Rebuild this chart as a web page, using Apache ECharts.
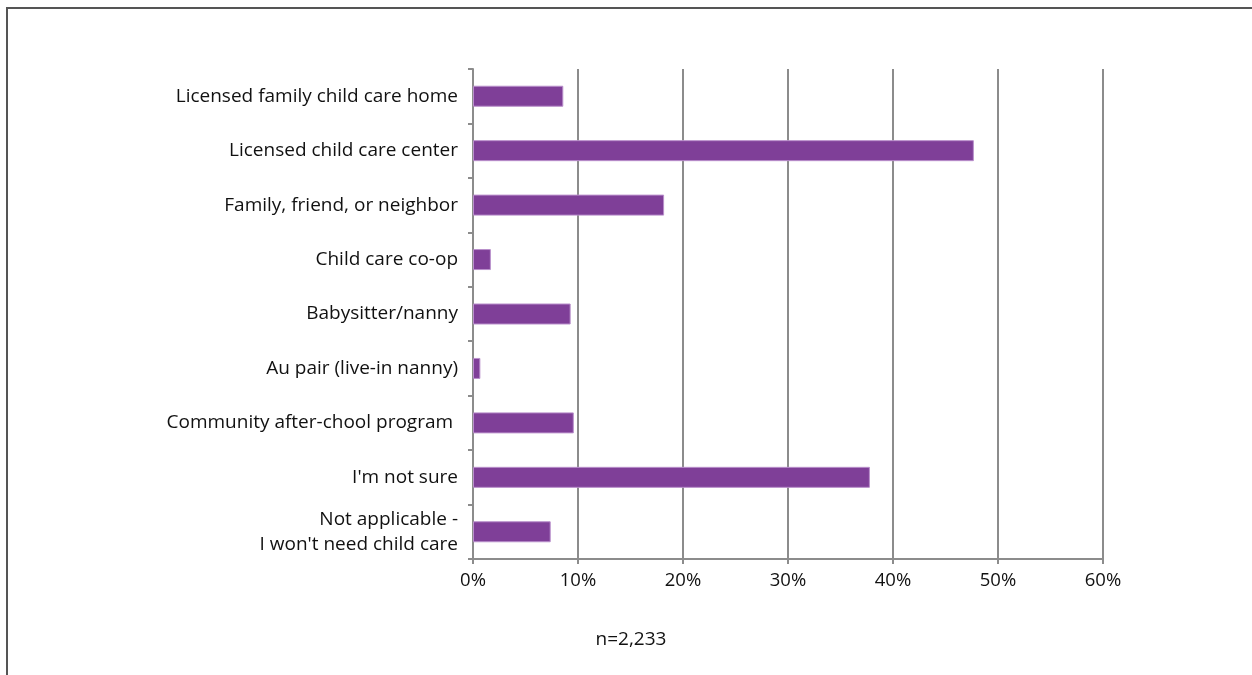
<!DOCTYPE html>
<html>
<head>
<meta charset="utf-8">
<script src="https://cdn.jsdelivr.net/npm/echarts@6/dist/echarts.min.js"></script>
<style>
html,body{margin:0;padding:0;background:#fff;}
#chart{width:1252px;height:675px;}
</style>
</head>
<body>
<div id="chart"></div>
<script>
const categories = [
  "Licensed family child care home",
  "Licensed child care center",
  "Family, friend, or neighbor",
  "Child care co-op",
  "Babysitter/nanny",
  "Au pair (live-in nanny)",
  "Community after-chool program ",
  "I'm not sure",
  "Not applicable -\nI won't need child care"
];
const values = [8.6, 47.7, 18.2, 1.7, 9.3, 0.7, 9.6, 37.8, 7.4];
const sampleNote = "n=2,233";

const FONT = "Open Sans";
const chart = echarts.init(document.getElementById('chart'));
chart.setOption({
  animation: false,
  textStyle: { fontFamily: FONT },
  grid: { left: 473, right: 149, top: 69, bottom: 116, containLabel: false },
  xAxis: {
    type: 'value', min: 0, max: 60, interval: 10,
    axisLine: { show: true, lineStyle: { color: '#8c8c8c', width: 2 } },
    axisTick: { show: true, length: 5, lineStyle: { color: '#8c8c8c', width: 2 } },
    axisLabel: { formatter: '{value}%', color: '#111', fontSize: 18.5, fontFamily: FONT, margin: 12 },
    splitLine: { show: true, lineStyle: { color: '#8c8c8c', width: 2 } }
  },
  yAxis: {
    type: 'category', data: categories, inverse: true,
    axisLine: { show: true, lineStyle: { color: '#8c8c8c', width: 2 } },
    axisTick: { show: true, length: 5, lineStyle: { color: '#8c8c8c', width: 2 } },
    axisLabel: { color: '#111', fontSize: 19, fontFamily: FONT, margin: 15, lineHeight: 25, align: 'right' }
  },
  series: [{
    type: 'bar', data: values, barWidth: 21,
    itemStyle: { color: '#7f3f98', borderColor: '#b98fcb', borderWidth: 1 }
  }],
  graphic: [
    { type: 'rect', shape: { x: 7, y: 8, width: 1300, height: 720 }, style: { fill: 'none', stroke: '#555', lineWidth: 2 }, silent: true },
    { type: 'text', x: 631, y: 640, style: { text: sampleNote, fontFamily: FONT, fontSize: 19, fill: '#111', align: 'center', verticalAlign: 'middle' } }
  ]
});
</script>
</body>
</html>
